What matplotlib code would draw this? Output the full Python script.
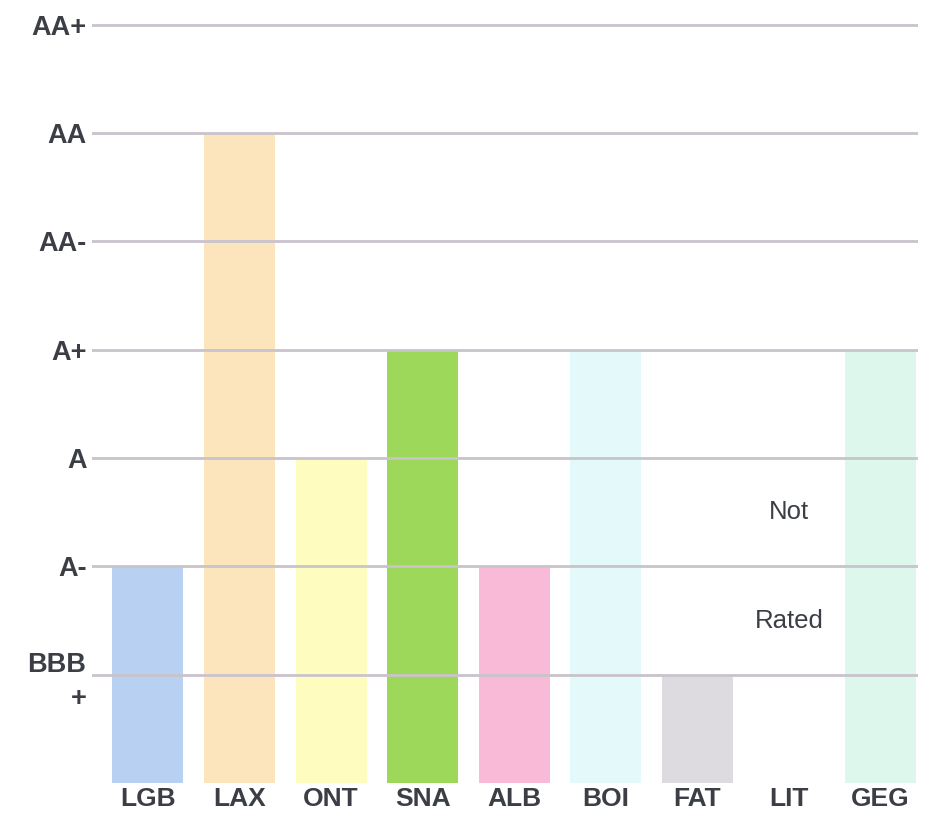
import matplotlib.pyplot as plt
import numpy as np

# airport credit ratings, 0 = not rated
airports = ['LGB', 'LAX', 'ONT', 'SNA', 'ALB', 'BOI', 'FAT', 'LIT', 'GEG']
ratings = [2, 6, 3, 4, 2, 4, 1, 0, 4]
bar_colors = ['#b8d1f2', '#fce4bd', '#fefdbf', '#9ed85a', '#f9bad8',
              '#e3f9fa', '#dddae0', '#ffffff', '#ddf7ec']

rating_levels = [1, 2, 3, 4, 5, 6, 7]
rating_labels = ['BBB\n+', 'A-', 'A', 'A+', 'AA-', 'AA', 'AA+']

text_color = '#3b3f45'
grid_color = '#c9c3cc'

fig = plt.figure(figsize=(9.25, 8.13), dpi=100)
ax = fig.add_axes([0.0995, 0.0369, 0.8929, 0.946])

x = np.arange(len(airports))
ax.bar(x, ratings, width=0.775, color=bar_colors, zorder=1)

for lvl in rating_levels:
    ax.axhline(lvl, color=grid_color, linewidth=2, zorder=2)

ax.set_xlim(-0.61, 8.41)
ax.set_ylim(0, 7.1)

ax.set_xticks(x)
ax.set_xticklabels(airports, fontsize=19, fontweight='bold',
                   color=text_color, family='Liberation Sans')
ax.set_yticks(rating_levels)
ax.set_yticklabels(rating_labels, fontsize=19.5, fontweight='bold',
                   color=text_color, family='Liberation Sans',
                   multialignment='right', linespacing=1.4)
ax.tick_params(axis='both', length=0)
ax.tick_params(axis='x', pad=3)
ax.tick_params(axis='y', pad=4)

for s in ax.spines.values():
    s.set_visible(False)

# LIT has no rating
lit = airports.index('LIT')
ax.text(lit, 2.5, 'Not', ha='center', va='center', fontsize=18.5,
        color=text_color, family='Liberation Sans')
ax.text(lit, 1.5, 'Rated', ha='center', va='center', fontsize=18.5,
        color=text_color, family='Liberation Sans')

plt.savefig('out.png', dpi=100)
